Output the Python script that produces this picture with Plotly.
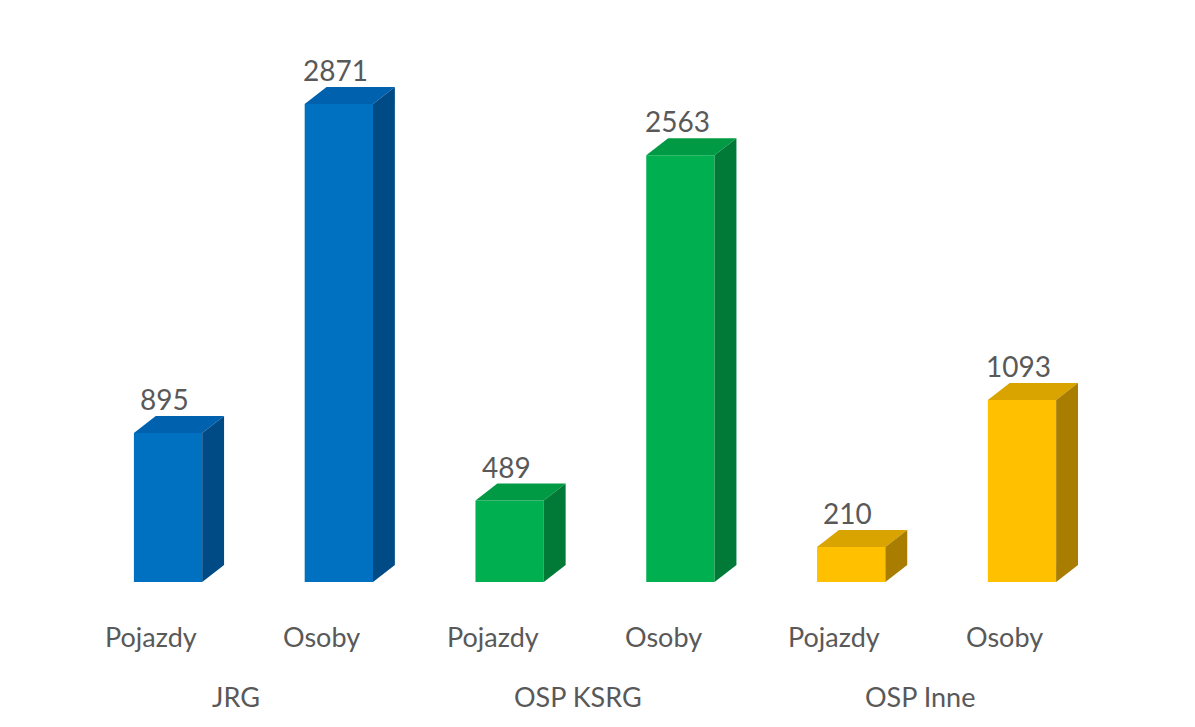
import plotly.graph_objects as go

groups = ["JRG", "OSP KSRG", "OSP Inne"]
subcats = ["Pojazdy", "Osoby"]
values = [895, 2871, 489, 2563, 210, 1093]

front_colors = ["#0070C0", "#00B050", "#FFC000"]
top_colors = ["#0062AE", "#009A45", "#D9A300"]
side_colors = ["#004A86", "#007A36", "#A87D00"]

BAR_W = 0.40
DX = 0.128
DY = 102
FONT = "Lato"
GRAY = "#595959"

fig = go.Figure()

xs = list(range(len(values)))
gidx = [i // 2 for i in xs]

fig.add_trace(go.Bar(
    x=xs, y=values, width=BAR_W,
    marker=dict(color=[front_colors[g] for g in gidx], line=dict(width=0)),
    hoverinfo="skip", showlegend=False,
))

for i, v in zip(xs, values):
    g = gidx[i]
    x0, x1 = i - BAR_W / 2, i + BAR_W / 2
    # top face
    fig.add_trace(go.Scatter(
        x=[x0, x1, x1 + DX, x0 + DX, x0],
        y=[v, v, v + DY, v + DY, v],
        fill="toself", fillcolor=top_colors[g], mode="lines",
        line=dict(width=0), hoverinfo="skip", showlegend=False,
    ))
    # side face
    fig.add_trace(go.Scatter(
        x=[x1, x1 + DX, x1 + DX, x1, x1],
        y=[0, DY, v + DY, v, 0],
        fill="toself", fillcolor=side_colors[g], mode="lines",
        line=dict(width=0), hoverinfo="skip", showlegend=False,
    ))
    fig.add_annotation(x=i - 0.02, y=v + DY, text=str(v), showarrow=False,
                       yanchor="bottom", yshift=-2,
                       font=dict(family=FONT, size=28, color=GRAY))
    fig.add_annotation(x=i - 0.1, y=-330, text=subcats[i % 2], showarrow=False,
                       yanchor="middle",
                       font=dict(family=FONT, size=27, color=GRAY))

for g, name in enumerate(groups):
    fig.add_annotation(x=2 * g + 0.5 - 0.1, y=-690, text=name, showarrow=False,
                       yanchor="middle",
                       font=dict(family=FONT, size=27, color=GRAY))

fig.update_layout(
    width=1195, height=727,
    margin=dict(l=0, r=0, t=0, b=0),
    paper_bgcolor="white", plot_bgcolor="white",
    xaxis=dict(range=[-0.984, 6.013], visible=False, fixedrange=True),
    yaxis=dict(range=[-871, 3495], visible=False, fixedrange=True),
    barmode="overlay",
)

fig.write_html("out.html", config={"displayModeBar": False},
               post_script="document.body.style.margin='0';document.body.style.overflow='hidden';")
